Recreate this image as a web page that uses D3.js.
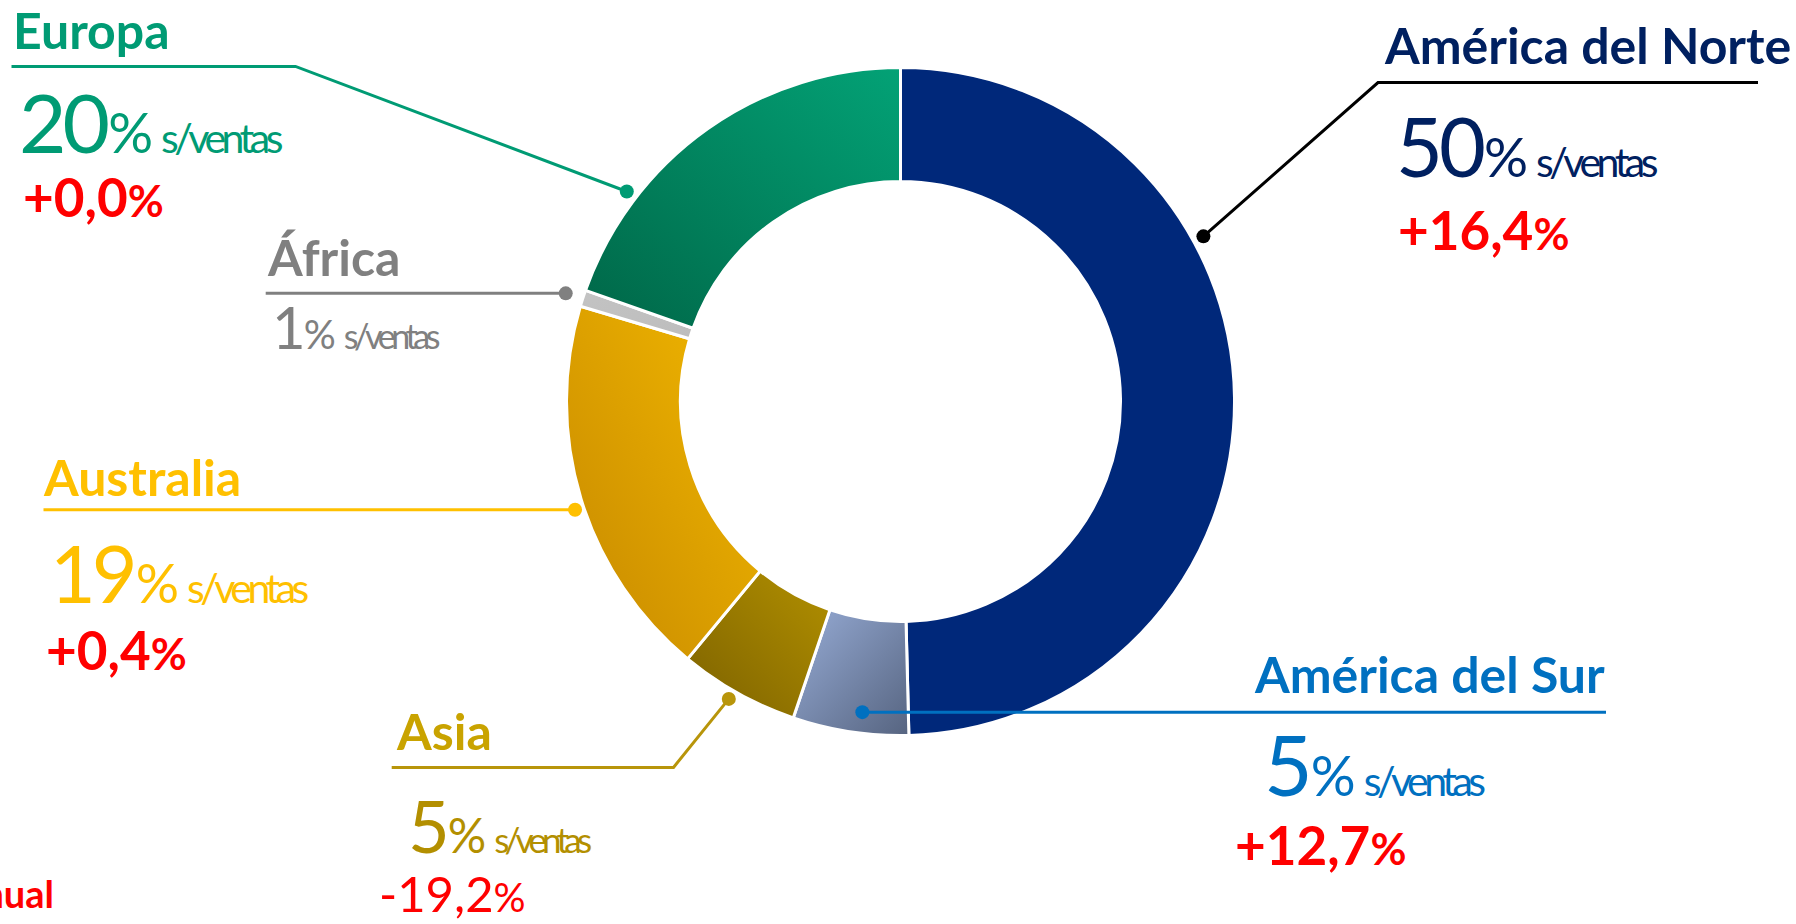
<!DOCTYPE html>
<html>
<head>
<meta charset="utf-8">
<script src="https://cdn.jsdelivr.net/npm/d3@7"></script>
<style>
  html, body { margin: 0; padding: 0; background: #fff; overflow: hidden; }
  svg { display: block; font-family: Lato, "Open Sans", sans-serif; }
</style>
</head>
<body>
<svg id="chart" width="1796" height="924"></svg>
<script>
// Data: regions clockwise from 12 o'clock
const regions = ['América del Norte', 'América del Sur', 'Asia', 'Australia', 'África', 'Europa'];
const shares = [49.6, 5.6, 5.8, 18.6, 0.8, 19.6];        // % of sales (slice size)
const shareLabels = ['50', '5', '5', '19', '1', '20'];
const growthLabels = ['+16,4%', '+12,7%', '-19,2%', '+0,4%', null, '+0,0%'];
const footnote = 'Variación anual';

// Look of each region: colours, leader line and label placement
const layout = {
  'América del Norte': {
    title: '#002060', share: '#002060', line: '#000000',
    grad: ['#00287a', '#00287a'], gradDir: [0, 0, 1, 1],
    dot: [61.4, 345], bends: [[1378, 82.5], [1758, 82.5]],
    at: [1385, 64], shareAt: [1396, 177], growthAt: [1398, 250],
    big: 81, pct: 55, sv: 41, svSpacing: -4.5, growthWeight: 700
  },
  'América del Sur': {
    title: '#0070c0', share: '#0070c0', line: '#0070c0',
    grad: ['#97acd6', '#566480'], gradDir: [0, 0, 1, 1],
    dot: [187, 313], bends: [[1606, null]],
    at: [1255, 693], shareAt: [1264, 796], growthAt: [1235, 865],
    big: 84, pct: 56, sv: 41, svSpacing: -4.5, growthWeight: 700
  },
  'Asia': {
    title: '#c9a300', share: '#b38f00', line: '#b8950a',
    grad: ['#b29000', '#7c6100'], gradDir: [1, 0, 0, 1],
    dot: [210, 343.4], bends: [[673.5, 767.4], [391.7, 767.4]],
    at: [397, 750], shareAt: [408, 853], growthAt: [379, 912],
    big: 72, pct: 48, sv: 35, svSpacing: -4.8, growthWeight: 400
  },
  'Australia': {
    title: '#ffc000', share: '#ffc000', line: '#ffc000',
    grad: ['#f3b900', '#c68800'], gradDir: [1, 0, 0, 1],
    dot: [251.6, 343], bends: [[43.5, null]],
    at: [44, 496], shareAt: [50, 603], growthAt: [46, 670],
    big: 79, pct: 54, sv: 41, svSpacing: -4.5, growthWeight: 700
  },
  'África': {
    title: '#808080', share: '#808080', line: '#808080',
    grad: ['#c3c3c3', '#bdbdbd'], gradDir: [0, 0, 1, 1],
    dot: [287.9, 351.8], bends: [[265.7, null]],
    at: [268, 276], shareAt: [272, 349], growthAt: null,
    big: 58, pct: 40, sv: 34, svSpacing: -4.4, growthWeight: 700
  },
  'Europa': {
    title: '#009b74', share: '#009b74', line: '#009b74',
    grad: ['#03a276', '#006647'], gradDir: [1, 0, 0, 1],
    dot: [307.5, 345], bends: [[295.5, 66.4], [11.5, 66.4]],
    at: [13, 49], shareAt: [19, 153], growthAt: [23, 217],
    big: 82, pct: 56, sv: 41, svSpacing: -4.5, growthWeight: 700
  }
};

const svg = d3.select('#chart');
const cx = 900.5, cy = 401.5, rOuter = 334, rInner = 220;

const rows = regions.map((name, i) => ({
  name, share: shares[i], shareLabel: shareLabels[i], growth: growthLabels[i], i
}));

// gradients for the slices
const defs = svg.append('defs');
rows.forEach(d => {
  const L = layout[d.name];
  const g = defs.append('linearGradient')
    .attr('id', 'grad' + d.i)
    .attr('x1', L.gradDir[0]).attr('y1', L.gradDir[1])
    .attr('x2', L.gradDir[2]).attr('y2', L.gradDir[3]);
  g.append('stop').attr('offset', '0%').attr('stop-color', L.grad[0]);
  g.append('stop').attr('offset', '100%').attr('stop-color', L.grad[1]);
});

const pie = d3.pie().sort(null).value(d => d.share);
const arc = d3.arc().innerRadius(rInner).outerRadius(rOuter);

const donut = svg.append('g').attr('transform', `translate(${cx},${cy})`);
donut.selectAll('path.slice')
  .data(pie(rows))
  .join('path')
  .attr('class', 'slice')
  .attr('d', arc)
  .attr('fill', d => `url(#grad${d.data.i})`)
  .attr('stroke', '#fff')
  .attr('stroke-width', 3)
  .attr('stroke-linejoin', 'miter');

// leader lines with dots
const leaders = svg.append('g');
rows.forEach(d => {
  const L = layout[d.name];
  const p = d3.pointRadial(L.dot[0] * Math.PI / 180, L.dot[1]);
  const start = [cx + p[0], cy + p[1]];
  const pts = [start];
  L.bends.forEach(b => pts.push([b[0], b[1] == null ? start[1] : b[1]]));
  leaders.append('path')
    .attr('d', d3.line()(pts))
    .attr('fill', 'none')
    .attr('stroke', L.line)
    .attr('stroke-width', 3);
  leaders.append('circle')
    .attr('cx', start[0]).attr('cy', start[1]).attr('r', 7)
    .attr('fill', L.line);
});

// labels
const labels = svg.append('g');
rows.forEach(d => {
  const L = layout[d.name];
  labels.append('text')
    .attr('x', L.at[0]).attr('y', L.at[1])
    .attr('fill', L.title)
    .attr('font-size', 50)
    .attr('font-weight', 700)
    .text(d.name);

  const t = labels.append('text')
    .attr('x', L.shareAt[0]).attr('y', L.shareAt[1])
    .attr('fill', L.share)
    .attr('font-weight', 400);
  t.append('tspan').attr('font-size', L.big).attr('letter-spacing', -4).text(d.shareLabel);
  t.append('tspan').attr('font-size', L.pct).attr('dx', 2).text('%');
  t.append('tspan').attr('font-size', L.sv).attr('dx', 8)
    .attr('letter-spacing', L.svSpacing).text('s/ventas');

  if (d.growth && L.growthAt) {
    const bold = L.growthWeight === 700;
    const g = labels.append('text')
      .attr('x', L.growthAt[0]).attr('y', L.growthAt[1])
      .attr('fill', '#ff0000')
      .attr('font-weight', L.growthWeight);
    g.append('tspan').attr('font-size', bold ? 53 : 49).text(d.growth.replace('%', ''));
    g.append('tspan').attr('font-size', bold ? 44 : 40).text('%');
  }
});

// footnote partly off the left edge, as in the source slide
svg.append('text')
  .attr('x', 54).attr('y', 908)
  .attr('text-anchor', 'end')
  .attr('fill', '#ff0000')
  .attr('font-size', 38)
  .attr('font-weight', 700)
  .text(footnote);
</script>
</body>
</html>
